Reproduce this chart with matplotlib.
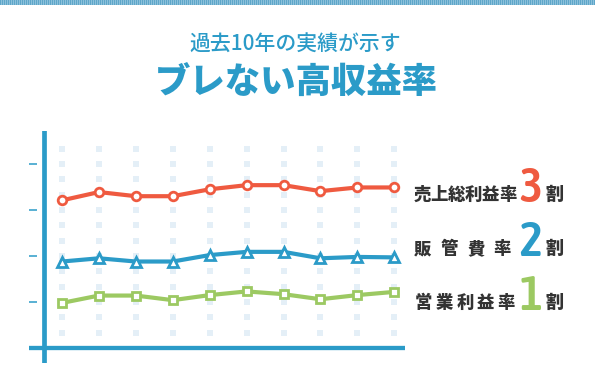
import matplotlib.pyplot as plt
import numpy as np

# data (percent of sales, 10 years)
years = list(range(10))
gross_margin = [32.1, 33.9, 33.0, 33.0, 34.5, 35.4, 35.4, 34.1, 34.9, 34.9]
sga_ratio = [18.8, 19.5, 18.8, 18.8, 20.2, 20.9, 20.9, 19.5, 19.8, 19.7]
op_margin = [9.8, 11.4, 11.4, 10.4, 11.5, 12.3, 11.7, 10.6, 11.5, 12.2]
y_ticks = [10, 20, 30, 40]
grid_rows = [k * 10 / 3 for k in range(1, 14)]

labels = ['売上総利益率', '販管費率', '営業利益率']
digits = ['3', '2', '1']
subtitle = '過去10年の実績が示す'
title = 'ブレない高収益率'

RED = '#ef5a40'
BLUE = '#2b9bc8'
GREEN = '#9cc962'
DOT = '#e4eff7'
DARK = '#333333'

W, H = 595, 392
plt.rcParams['font.family'] = ['Noto Sans CJK JP', 'DejaVu Sans']

fig = plt.figure(figsize=(W / 100, H / 100), dpi=100)


def fx(px):
    return px / W


def fy(py):
    return 1 - py / H


# striped banner on top
bax = fig.add_axes([0, fy(5), 1, 5 / H])
stripes = np.tile(np.array([[0, 1]]), (1, W // 2 + 1))[:, :W]
bax.imshow(stripes, cmap=plt.matplotlib.colors.ListedColormap(['#5ea6c9', '#8cc0da']),
           aspect='auto', interpolation='nearest')
bax.axis('off')

# main axes
ax = fig.add_axes([fx(29), fy(363), fx(405) - fx(29), (363 - 131) / H])
ax.set_xlim((29 - 62) / 36.92, (405 - 62) / 36.92)
ax.set_ylim(10 + (302 - 363) / 4.6, 10 + (302 - 131) / 4.6)

gx, gy = np.meshgrid(years, grid_rows)
ax.scatter(gx.ravel(), gy.ravel(), marker='s', s=13, color=DOT, linewidths=0, zorder=1)

ax.axvline((44.3 - 62) / 36.92, color=BLUE, lw=3.4, zorder=2)
ax.axhline(0, color=BLUE, lw=3.1, zorder=2)

ax.plot(years, gross_margin, color=RED, lw=3, marker='o', ms=6.2, mfc='white',
        mec=RED, mew=2, zorder=3)
ax.plot(years, sga_ratio, color=BLUE, lw=3, marker='^', ms=7.2, mfc='white',
        mec=BLUE, mew=2, zorder=3)
ax.plot(years, op_margin, color=GREEN, lw=3, marker='s', ms=6.2, mfc='white',
        mec=GREEN, mew=2, zorder=3)

ax.set_yticks(y_ticks)
ax.set_xticks([])
ax.tick_params(axis='y', direction='in', length=6, width=1.1, color=BLUE, labelleft=False)
for s in ax.spines.values():
    s.set_visible(False)
ax.patch.set_alpha(0)

# titles
fig.text(fx(295), fy(45), subtitle, color=BLUE, fontsize=15, fontweight='medium',
         ha='center', va='center')
fig.text(fx(296.5), fy(82.5), title, color=BLUE, fontsize=25.5, fontweight='black',
         ha='center', va='center')

# right side labels
rows = [(200, 422, 508, RED), (254, 423, 502, BLUE), (308, 423.5, 506.5, GREEN)]
for text, dg, (base, x0, x1, col) in zip(labels, digits, rows):
    xs = np.linspace(x0, x1, len(text))
    for ch, x in zip(text, xs):
        fig.text(fx(x), fy(base), ch, color=DARK, fontsize=12.5, fontweight='black',
                 ha='center', va='baseline')
    fig.text(fx(531), fy(base + 2), dg, color=col, fontsize=35, fontweight='semibold',
             family=['Asap Condensed', 'DejaVu Sans'], ha='center', va='baseline')
    fig.text(fx(554), fy(base), '割', color=DARK, fontsize=13, fontweight='black',
             ha='center', va='baseline')

fig.savefig('out.png', dpi=100)
